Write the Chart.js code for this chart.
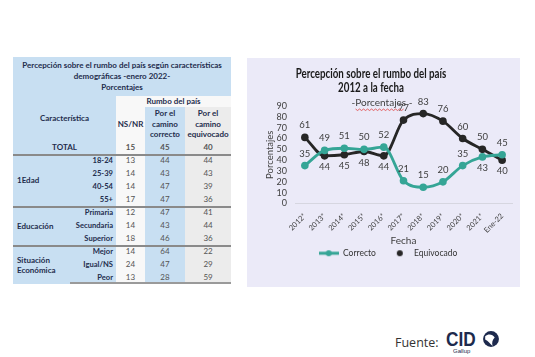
<!DOCTYPE html>
<html><head><meta charset="utf-8">
<script src="https://cdn.jsdelivr.net/npm/chart.js@4/dist/chart.umd.min.js"></script>
<style>
html,body{margin:0;padding:0;background:#fff;width:535px;height:357px;overflow:hidden;font-family:Lato,"Liberation Sans",sans-serif;}
#tbl{position:absolute;left:13px;top:57px;width:218px;border-collapse:collapse;table-layout:fixed;font-size:8px;color:#1f2d4d;}
#tbl td{padding:0;height:13px;line-height:13px;white-space:nowrap;border:none;}
.blue{background:#c8dff2;}
.wh{background:#f8f8f8;}
.gr{background:#ececec;}
.num{text-align:center;color:#555;}
.b{font-weight:bold;}
.sub{text-align:right;padding-right:3px!important;font-weight:bold;font-size:7.6px;}
.grp{font-weight:bold;padding-left:4px!important;line-height:10px!important;}
.sep td{box-shadow:inset 0 2px 0 #8a8a8a;}
.last td{box-shadow:inset 0 -2px 0 #9a9a9a;}
#chartBox{position:absolute;left:247px;top:58px;width:273px;height:229px;background:#ebeaf8;}
#fuente{position:absolute;left:395px;top:334px;font-size:12.5px;color:#333;font-family:"Open Sans",sans-serif;}
#cid{position:absolute;left:446px;top:327px;font-size:21px;font-weight:900;color:#1d2a4d;font-family:"Liberation Sans",sans-serif;transform:scaleX(0.82);transform-origin:left top;}
#gallup{position:absolute;left:453px;top:348px;font-size:6px;color:#1d2a4d;font-family:"Liberation Sans",sans-serif;}
#globe{position:absolute;left:482px;top:330px;}
</style></head><body>
<table id="tbl">
<colgroup><col style="width:57px"><col style="width:46px"><col style="width:29px"><col style="width:40px"><col style="width:46px"></colgroup>
<tbody id="tb"></tbody>
</table>
<div id="chartBox"><canvas id="c" width="273" height="229"></canvas></div>
<div id="fuente">Fuente:</div>
<div id="cid">CID</div>
<div id="gallup">Gallup</div>
<svg id="globe" width="18" height="18" viewBox="0 0 17 17"><circle cx="8.5" cy="8.5" r="7.5" fill="#1d2a4d"/><path d="M3 6 C6 3,10 4,12 7 C10 9,9 12,10 15 C7 13,6 10,3 9 Z" fill="#fff"/></svg>
<script>
// ---- table data ----
const tableTitle = ["Percepción sobre el rumbo del país según características","demográficas -enero 2022-","Porcentajes"];
const groups = ["", "1Edad", "Educación", "Situación Económica"];
const rowGroup = [0, 1, 1, 1, 1, 2, 2, 2, 3, 3, 3];
const rowLabels = ["TOTAL", "18-24", "25-39", "40-54", "55+", "Primaria", "Secundaria", "Superior", "Mejor", "Igual/NS", "Peor"];
const nsnr = [15, 13, 14, 14, 17, 12, 14, 18, 14, 24, 13];
const tCorrecto = [45, 44, 43, 47, 47, 47, 43, 46, 64, 47, 28];
const tEquivocado = [40, 44, 43, 39, 36, 41, 44, 36, 22, 29, 59];

// ---- chart data ----
const chartTitle = ["Percepción sobre el rumbo del país", "2012 a la fecha"];
const chartSubtitle = "-Porcentajes -";
const years = ["2012*", "2013*", "2014*", "2015*", "2016*", "2017*", "2018*", "2019*", "2020*", "2021*", "Ene-22"];
const correcto = [35, 49, 51, 50, 52, 21, 15, 20, 35, 43, 45];
const equivocado = [61, 44, 45, 48, 44, 77, 83, 76, 60, 50, 40];
const correctoLabelPos = ["up","up","up","up","up","up","up","up","up","down","up"];
const equivocadoLabelPos = ["up","down","down","down","down","up","up","up","up","up","down"];
const yTicks = [0, 10, 20, 30, 40, 50, 60, 70, 80, 90];

// build table
const tb = document.getElementById('tb');
let h = '';
h += '<tr><td colspan="5" class="blue b" style="text-align:center;height:39px;line-height:11px;">' + tableTitle.join('<br>') + '</td></tr>';
h += '<tr><td colspan="2" rowspan="2" class="blue b" style="text-align:center;">Característica</td><td colspan="3" class="wh b" style="text-align:center;height:11px;line-height:11px;">Rumbo del país</td></tr>';
h += '<tr><td class="wh b" style="text-align:center;height:34px;">NS/NR</td><td class="blue b" style="text-align:center;line-height:10.5px;">Por el<br>camino<br>correcto</td><td class="gr b" style="text-align:center;line-height:10.5px;">Por el<br>camino<br>equivocado</td></tr>';
for (let i = 0; i < rowLabels.length; i++) {
  const first = i === 0 || rowGroup[i] !== rowGroup[i - 1];
  let cls = first && i > 0 ? 'sep' : '';
  if (i === rowLabels.length - 1) cls += ' last';
  h += '<tr class="' + cls + '">';
  if (i === 0) {
    h += '<td colspan="2" class="blue b" style="text-align:center;">TOTAL</td>';
  } else {
    if (first) {
      const span = rowGroup.filter(g => g === rowGroup[i]).length;
      h += '<td rowspan="' + span + '" class="blue grp">' + groups[rowGroup[i]].replace(' ', '<br>') + '</td>';
    }
    h += '<td class="blue sub">' + rowLabels[i] + '</td>';
  }
  const bold = i === 0 ? ' b' : '';
  h += '<td class="wh num' + bold + '">' + nsnr[i] + '</td><td class="blue num' + bold + '">' + tCorrecto[i] + '</td><td class="gr num' + bold + '">' + tEquivocado[i] + '</td></tr>';
}
tb.innerHTML = h;

// legend images
const teal = '#35a596';
function legendImage(withLine, color) {
  const c = document.createElement('canvas');
  c.width = 20; c.height = 8;
  const g = c.getContext('2d');
  if (withLine) { g.strokeStyle = color; g.lineWidth = 3; g.beginPath(); g.moveTo(0,4); g.lineTo(20,4); g.stroke(); }
  g.fillStyle = color; g.beginPath(); g.arc(10,4,3,0,Math.PI*2); g.fill();
  return c;
}
const legCorrecto = legendImage(true, teal);
const legEquivocado = legendImage(false, '#262626');

const labelPlugin = {
  id: 'vlabels',
  afterDatasetsDraw(chart) {
    const ctx = chart.ctx;
    ctx.save();
    ctx.font = '9.5px Lato, sans-serif';
    ctx.fillStyle = '#404040';
    ctx.textAlign = 'center';
    ctx.textBaseline = 'middle';
    const pos = [correctoLabelPos, equivocadoLabelPos];
    chart.data.datasets.forEach((ds, di) => {
      const meta = chart.getDatasetMeta(di);
      meta.data.forEach((pt, i) => {
        const dy = pos[di][i] === 'up' ? -12 : 11;
        ctx.fillText(String(ds.data[i]), pt.x, pt.y + dy);
      });
    });
    ctx.restore();
  }
};

const titlePlugin = {
  id: 'ctitle',
  afterDraw(chart) {
    const ctx = chart.ctx;
    ctx.save();
    ctx.textAlign = 'center';
    ctx.textBaseline = 'middle';
    ctx.fillStyle = '#1a1a1a';
    ctx.font = 'bold 12.5px Lato, sans-serif';
    const cx = 124;
    [16, 30].forEach((y, i) => {
      ctx.save();
      ctx.translate(cx, y);
      ctx.scale(0.78, 1);
      ctx.fillText(chartTitle[i], 0, 0);
      ctx.restore();
    });
    ctx.font = '10px Lato, sans-serif';
    ctx.fillStyle = '#404040';
    ctx.fillText(chartSubtitle, 135, 45);
    // spell-check style squiggle under the subtitle word
    const w = ctx.measureText(chartSubtitle).width;
    const x0 = 135 - w / 2 + 4, x1 = 135 + w / 2 - 7;
    ctx.strokeStyle = '#e04040';
    ctx.lineWidth = 0.8;
    ctx.beginPath();
    for (let x = x0, k = 0; x <= x1; x += 2, k++) {
      const yy = 51.5 + (k % 2 ? 1 : -0.5);
      if (k === 0) ctx.moveTo(x, yy); else ctx.lineTo(x, yy);
    }
    ctx.stroke();
    ctx.restore();
  }
};

new Chart(document.getElementById('c'), {
  type: 'line',
  data: {
    labels: years,
    datasets: [
      { label: 'Correcto', data: correcto, borderColor: teal, backgroundColor: teal, borderWidth: 2.8, pointRadius: 3.8, pointBackgroundColor: teal, pointBorderWidth: 0, tension: 0.4, cubicInterpolationMode: 'monotone' },
      { label: 'Equivocado', data: equivocado, borderColor: '#262626', backgroundColor: '#262626', borderWidth: 2.8, pointRadius: 3.8, pointBackgroundColor: '#262626', pointBorderWidth: 0, tension: 0.4, cubicInterpolationMode: 'monotone' }
    ]
  },
  options: {
    responsive: false,
    animation: false,
    layout: { padding: { left: 17, right: 8, top: 48, bottom: 19.5 } },
    plugins: {
      title: { display: false },
      subtitle: { display: false },
      legend: {
        position: 'bottom',
        labels: {
          usePointStyle: true, pointStyleWidth: 20, color: '#333', font: { family: 'Lato', size: 8.5 }, boxHeight: 8, padding: 14,
          generateLabels(chart) {
            return [
              { text: 'Correcto', pointStyle: legCorrecto, fillStyle: teal, strokeStyle: teal, lineWidth: 0, datasetIndex: 0, fontColor: '#333' },
              { text: 'Equivocado', pointStyle: legEquivocado, fillStyle: '#262626', strokeStyle: '#262626', lineWidth: 0, datasetIndex: 1, fontColor: '#333' }
            ];
          }
        }
      },
      tooltip: { enabled: false }
    },
    scales: {
      x: {
        offset: true,
        grid: { display: false },
        border: { display: true, color: '#d6d6e0' },
        ticks: { color: '#404040', font: { family: 'Lato', size: 7.5 }, maxRotation: 45, minRotation: 45, padding: 0, autoSkip: false },
        title: { display: true, text: 'Fecha', color: '#404040', font: { family: 'Lato', size: 10 }, padding: { top: 0, bottom: -11.5 } },
        afterFit(axis) { axis.height = 31.5; }
      },
      y: {
        min: 0, max: 90,
        afterBuildTicks(axis) { axis.ticks = yTicks.map(v => ({ value: v })); },
        grid: { display: false, drawTicks: false },
        border: { display: false },
        ticks: { color: '#404040', font: { family: 'Lato', size: 9 }, padding: 8, autoSkip: false },
        title: { display: true, text: 'Porcentajes', color: '#404040', font: { family: 'Lato', size: 9.5 }, padding: { top: 0, bottom: 0 } },
        afterFit(axis) { axis.width = 31; }
      }
    }
  },
  plugins: [labelPlugin, titlePlugin]
});
</script>
</body></html>
